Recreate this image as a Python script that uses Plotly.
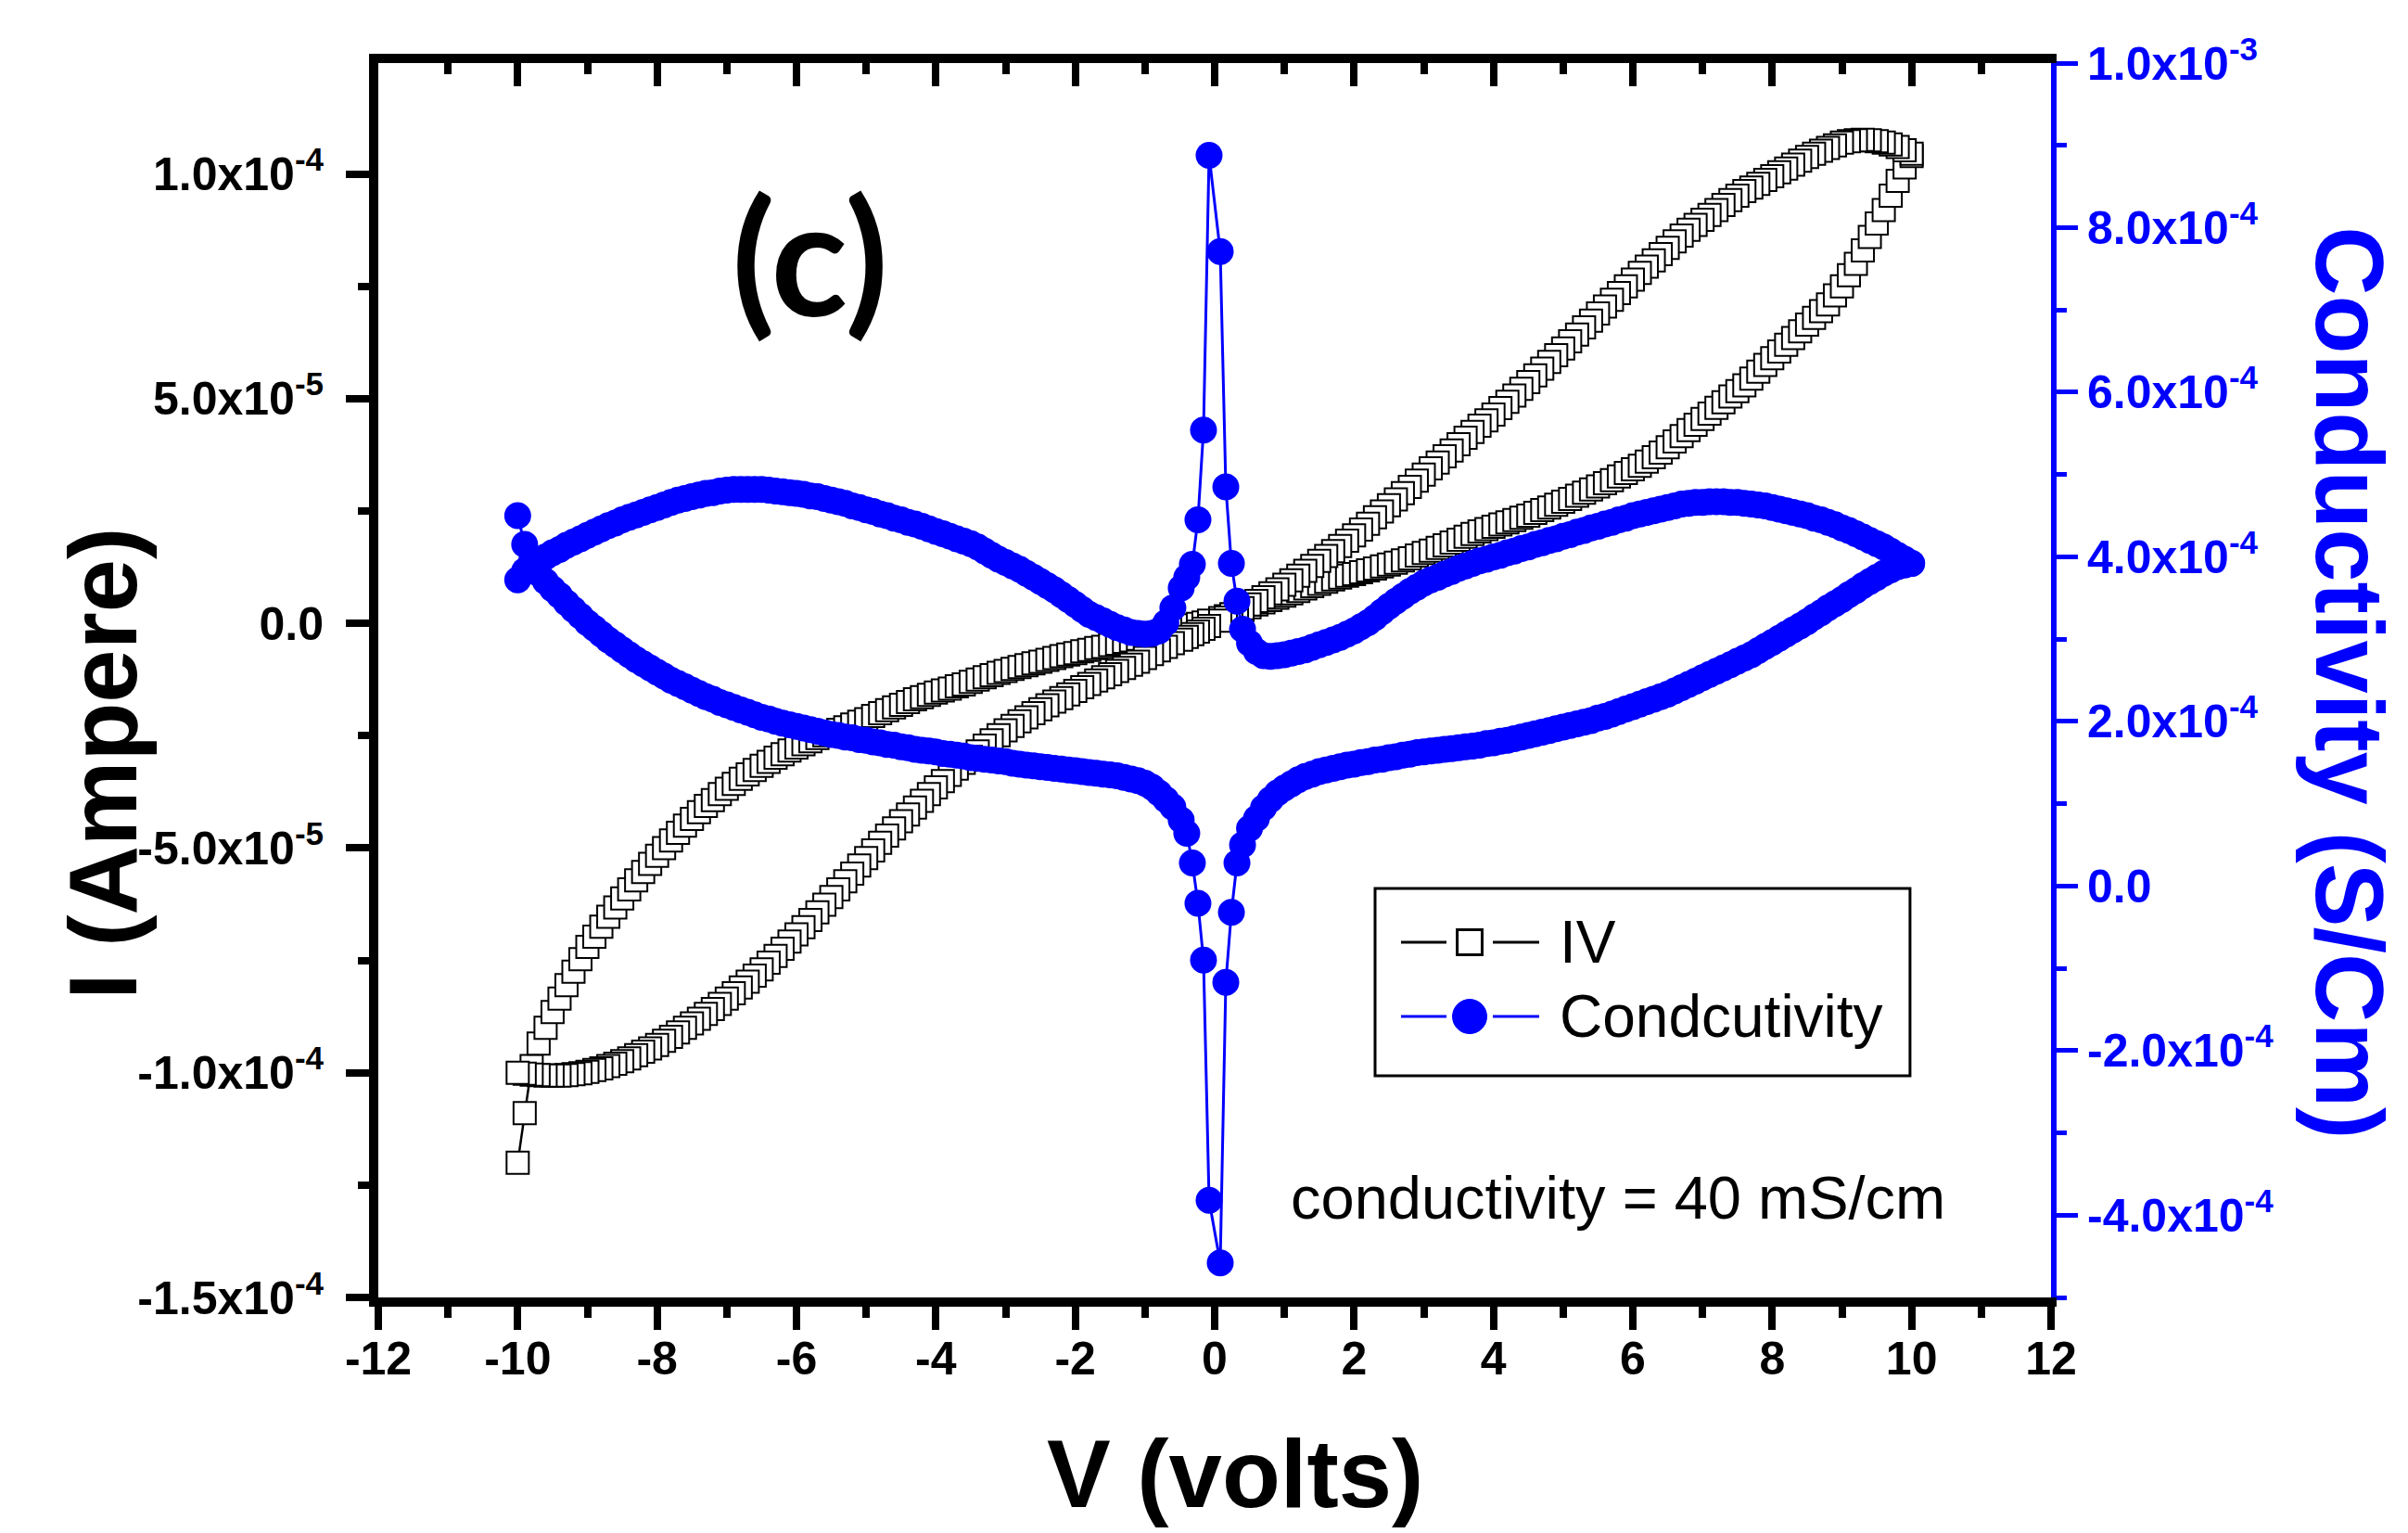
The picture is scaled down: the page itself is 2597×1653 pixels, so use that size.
import plotly.graph_objects as go

# voltage sweep (V): forward -10 -> 10, then reverse 10 -> -10
# (no point at V = 0, where the conductivity is undefined)
v_sweep = [
    -10.0, -9.9, -9.8, -9.7, -9.6, -9.5, -9.4, -9.3, -9.2, -9.1,
    -9.0, -8.9, -8.8, -8.7, -8.6, -8.5, -8.4, -8.3, -8.2, -8.1,
    -8.0, -7.9, -7.8, -7.7, -7.6, -7.5, -7.4, -7.3, -7.2, -7.1,
    -7.0, -6.9, -6.8, -6.7, -6.6, -6.5, -6.4, -6.3, -6.2, -6.1,
    -6.0, -5.9, -5.8, -5.7, -5.6, -5.5, -5.4, -5.3, -5.2, -5.1,
    -5.0, -4.9, -4.8, -4.7, -4.6, -4.5, -4.4, -4.3, -4.2, -4.1,
    -4.0, -3.9, -3.8, -3.7, -3.6, -3.5, -3.4, -3.3, -3.2, -3.1,
    -3.0, -2.9, -2.8, -2.7, -2.6, -2.5, -2.4, -2.3, -2.2, -2.1,
    -2.0, -1.9, -1.8, -1.7, -1.6, -1.5, -1.4, -1.3, -1.2, -1.1,
    -1.0, -0.9, -0.8, -0.7, -0.6,
    -0.48, -0.4, -0.32, -0.24, -0.16, -0.08, 0.08, 0.16, 0.24, 0.32, 0.4, 0.5,
    0.6, 0.7, 0.8, 0.9,
    1.0, 1.1, 1.2, 1.3, 1.4, 1.5, 1.6, 1.7, 1.8, 1.9,
    2.0, 2.1, 2.2, 2.3, 2.4, 2.5, 2.6, 2.7, 2.8, 2.9,
    3.0, 3.1, 3.2, 3.3, 3.4, 3.5, 3.6, 3.7, 3.8, 3.9,
    4.0, 4.1, 4.2, 4.3, 4.4, 4.5, 4.6, 4.7, 4.8, 4.9,
    5.0, 5.1, 5.2, 5.3, 5.4, 5.5, 5.6, 5.7, 5.8, 5.9,
    6.0, 6.1, 6.2, 6.3, 6.4, 6.5, 6.6, 6.7, 6.8, 6.9,
    7.0, 7.1, 7.2, 7.3, 7.4, 7.5, 7.6, 7.7, 7.8, 7.9,
    8.0, 8.1, 8.2, 8.3, 8.4, 8.5, 8.6, 8.7, 8.8, 8.9,
    9.0, 9.1, 9.2, 9.3, 9.4, 9.5, 9.6, 9.7, 9.8, 9.9,
    10.0,
]
v_fwd = v_sweep
v_rev = v_sweep[::-1]

# current on the forward sweep, units of 1e-5 A
i_fwd_e5 = [
    -12.0, -10.9, -9.85, -9.35, -9.0, -8.65, -8.35, -8.05, -7.75, -7.47,
    -7.2, -6.97, -6.75, -6.53, -6.32, -6.12, -5.92, -5.72, -5.53, -5.35,
    -5.17, -5.0, -4.83, -4.66, -4.5, -4.35, -4.2, -4.06, -3.93, -3.8,
    -3.68, -3.57, -3.46, -3.36, -3.26, -3.17, -3.08, -2.99, -2.91, -2.83,
    -2.76, -2.69, -2.62, -2.55, -2.49, -2.43, -2.37, -2.31, -2.25, -2.19,
    -2.13, -2.06, -2.0, -1.93, -1.87, -1.81, -1.75, -1.69, -1.64, -1.59,
    -1.54, -1.49, -1.45, -1.4, -1.36, -1.3, -1.25, -1.2, -1.15, -1.1,
    -1.06, -1.01, -0.97, -0.93, -0.89, -0.85, -0.81, -0.77, -0.73, -0.69,
    -0.66, -0.62, -0.59, -0.55, -0.52, -0.48, -0.45, -0.41, -0.38, -0.34,
    -0.31, -0.27, -0.24, -0.2, -0.16,
    -0.1, -0.07, -0.04, -0.01, 0.02, 0.06, 0.12, 0.16, 0.2, 0.24, 0.3, 0.36,
    0.42, 0.47, 0.52, 0.57,
    0.62, 0.67, 0.72, 0.78, 0.83, 0.88, 0.93, 0.98, 1.02, 1.06,
    1.1, 1.14, 1.18, 1.22, 1.27, 1.31, 1.35, 1.4, 1.45, 1.51,
    1.57, 1.62, 1.68, 1.74, 1.8, 1.86, 1.93, 1.99, 2.05, 2.1,
    2.15, 2.2, 2.25, 2.3, 2.35, 2.4, 2.46, 2.52, 2.58, 2.64,
    2.71, 2.77, 2.84, 2.91, 2.98, 3.05, 3.12, 3.19, 3.27, 3.35,
    3.43, 3.51, 3.6, 3.7, 3.8, 3.92, 4.05, 4.17, 4.3, 4.42,
    4.55, 4.67, 4.8, 4.92, 5.05, 5.17, 5.3, 5.45, 5.6, 5.75,
    5.9, 6.05, 6.2, 6.35, 6.5, 6.65, 6.8, 6.95, 7.1, 7.3,
    7.5, 7.75, 8.0, 8.3, 8.6, 8.9, 9.2, 9.52, 9.85, 10.15,
    10.4,
]
# current on the reverse sweep (10 -> -10), units of 1e-5 A
i_rev_e5 = [
    10.45, 10.53, 10.6, 10.66, 10.7, 10.73, 10.75, 10.76, 10.75, 10.73,
    10.7, 10.64, 10.58, 10.52, 10.45, 10.38, 10.3, 10.21, 10.12, 10.04,
    9.95, 9.87, 9.78, 9.7, 9.62, 9.52, 9.42, 9.31, 9.2, 9.09,
    8.98, 8.87, 8.76, 8.63, 8.5, 8.36, 8.22, 8.08, 7.94, 7.8,
    7.65, 7.5, 7.35, 7.2, 7.05, 6.9, 6.74, 6.59, 6.43, 6.28,
    6.12, 5.97, 5.82, 5.67, 5.52, 5.37, 5.22, 5.07, 4.93, 4.79,
    4.65, 4.52, 4.4, 4.26, 4.13, 3.99, 3.85, 3.72, 3.58, 3.45,
    3.31, 3.18, 3.04, 2.9, 2.76, 2.63, 2.49, 2.36, 2.22, 2.09,
    1.96, 1.84, 1.72, 1.61, 1.5, 1.39, 1.28, 1.17, 1.06, 0.96,
    0.86, 0.76, 0.67, 0.58, 0.5,
    0.42, 0.34, 0.27, 0.2, 0.13, 0.06, -0.06, -0.12, -0.18, -0.24, -0.3, -0.36,
    -0.44, -0.52, -0.6, -0.68,
    -0.77, -0.85, -0.92, -0.99, -1.06, -1.13, -1.2, -1.27, -1.35, -1.42,
    -1.5, -1.58, -1.66, -1.74, -1.82, -1.91, -2.0, -2.09, -2.18, -2.28,
    -2.38, -2.49, -2.6, -2.72, -2.85, -2.97, -3.1, -3.23, -3.37, -3.51,
    -3.65, -3.8, -3.95, -4.1, -4.25, -4.4, -4.56, -4.72, -4.88, -5.05,
    -5.22, -5.39, -5.57, -5.74, -5.92, -6.09, -6.26, -6.43, -6.6, -6.76,
    -6.92, -7.08, -7.24, -7.4, -7.55, -7.7, -7.84, -7.97, -8.1, -8.23,
    -8.35, -8.47, -8.58, -8.69, -8.8, -8.9, -9.0, -9.1, -9.2, -9.29,
    -9.38, -9.46, -9.53, -9.61, -9.68, -9.74, -9.8, -9.85, -9.9, -9.94,
    -9.98, -10.01, -10.03, -10.05, -10.06, -10.06, -10.06, -10.05, -10.04, -10.02,
    -10.0,
]

# conductivity on the forward sweep, units of 1e-4 S/cm
c_fwd_e4 = [
    4.5, 4.15, 3.95, 3.8, 3.7, 3.61, 3.53, 3.44, 3.36, 3.28,
    3.2, 3.13, 3.06, 2.99, 2.93, 2.87, 2.81, 2.75, 2.7, 2.65,
    2.6, 2.55, 2.5, 2.46, 2.42, 2.38, 2.34, 2.3, 2.27, 2.23,
    2.2, 2.17, 2.14, 2.11, 2.08, 2.05, 2.03, 2.0, 1.98, 1.96,
    1.94, 1.92, 1.9, 1.88, 1.86, 1.84, 1.83, 1.81, 1.8, 1.78,
    1.77, 1.75, 1.74, 1.72, 1.71, 1.69, 1.68, 1.66, 1.65, 1.64,
    1.63, 1.61, 1.6, 1.59, 1.58, 1.56, 1.55, 1.54, 1.53, 1.52,
    1.51, 1.49, 1.48, 1.47, 1.46, 1.45, 1.44, 1.43, 1.42, 1.41,
    1.4, 1.39, 1.38, 1.37, 1.36, 1.35, 1.34, 1.32, 1.3, 1.28,
    1.25, 1.2, 1.13, 1.05, 0.96,
    0.8, 0.64, 0.28, -0.21, -0.9, -3.82, -4.58, -1.17, -0.32, 0.28, 0.5, 0.7,
    0.82, 0.95, 1.05, 1.13,
    1.19, 1.24, 1.29, 1.33, 1.36, 1.39, 1.41, 1.43, 1.45, 1.47,
    1.48, 1.5, 1.51, 1.53, 1.54, 1.56, 1.57, 1.59, 1.6, 1.62,
    1.63, 1.64, 1.65, 1.66, 1.67, 1.68, 1.69, 1.7, 1.71, 1.73,
    1.74, 1.76, 1.77, 1.79, 1.81, 1.83, 1.85, 1.87, 1.89, 1.91,
    1.93, 1.95, 1.97, 1.99, 2.01, 2.04, 2.06, 2.09, 2.12, 2.15,
    2.18, 2.21, 2.24, 2.27, 2.3, 2.33, 2.37, 2.41, 2.45, 2.49,
    2.53, 2.57, 2.61, 2.65, 2.69, 2.73, 2.77, 2.81, 2.86, 2.91,
    2.96, 3.01, 3.06, 3.11, 3.16, 3.21, 3.27, 3.32, 3.38, 3.43,
    3.48, 3.54, 3.59, 3.65, 3.7, 3.75, 3.8, 3.84, 3.88, 3.9,
    3.92,
]
# conductivity on the reverse sweep (10 -> -10), units of 1e-4 S/cm
c_rev_e4 = [
    3.92, 3.97, 4.02, 4.07, 4.12, 4.16, 4.2, 4.24, 4.28, 4.32,
    4.35, 4.39, 4.42, 4.45, 4.47, 4.5, 4.52, 4.54, 4.56, 4.58,
    4.6, 4.62, 4.63, 4.64, 4.65, 4.66, 4.66, 4.67, 4.67, 4.67,
    4.66, 4.66, 4.65, 4.64, 4.62, 4.6, 4.58, 4.56, 4.54, 4.52,
    4.5, 4.47, 4.45, 4.42, 4.4, 4.37, 4.35, 4.32, 4.3, 4.27,
    4.25, 4.22, 4.2, 4.17, 4.15, 4.12, 4.1, 4.07, 4.05, 4.02,
    4.0, 3.97, 3.95, 3.92, 3.89, 3.86, 3.82, 3.79, 3.75, 3.72,
    3.68, 3.63, 3.58, 3.52, 3.46, 3.4, 3.33, 3.26, 3.2, 3.15,
    3.1, 3.06, 3.02, 2.99, 2.96, 2.93, 2.9, 2.87, 2.85, 2.83,
    2.81, 2.8, 2.79, 2.8, 2.85,
    2.95, 3.12, 3.46, 3.92, 4.85, 7.71, 8.88, 5.54, 4.45, 3.91, 3.75, 3.62,
    3.38, 3.2, 3.1, 3.07,
    3.06, 3.07, 3.08, 3.11, 3.14, 3.18, 3.22, 3.26, 3.3, 3.36,
    3.42, 3.48, 3.54, 3.6, 3.65, 3.7, 3.75, 3.8, 3.85, 3.89,
    3.93, 3.97, 4.02, 4.07, 4.12, 4.16, 4.19, 4.22, 4.25, 4.28,
    4.31, 4.34, 4.37, 4.4, 4.42, 4.45, 4.47, 4.5, 4.52, 4.55,
    4.57, 4.6, 4.62, 4.65, 4.67, 4.69, 4.71, 4.73, 4.74, 4.76,
    4.77, 4.78, 4.79, 4.8, 4.81, 4.82, 4.82, 4.82, 4.82, 4.82,
    4.81, 4.8, 4.78, 4.77, 4.75, 4.73, 4.71, 4.69, 4.66, 4.63,
    4.6, 4.57, 4.54, 4.51, 4.48, 4.45, 4.41, 4.38, 4.34, 4.3,
    4.26, 4.22, 4.18, 4.14, 4.09, 4.05, 4.0, 3.95, 3.9, 3.83,
    3.72,
]

assert len(v_fwd) == len(i_fwd_e5) == len(c_fwd_e4)
assert len(v_rev) == len(i_rev_e5) == len(c_rev_e4)

# axis ticks
x_ticks = [-12, -10, -8, -6, -4, -2, 0, 2, 4, 6, 8, 10, 12]
x_ticktext = ["-12", "-10", "-8", "-6", "-4", "-2", "0", "2", "4", "6", "8", "10", "12"]
x_minor = [-11, -9, -7, -5, -3, -1, 1, 3, 5, 7, 9, 11]
i_ticks = [-1.5e-4, -1.0e-4, -5.0e-5, 0.0, 5.0e-5, 1.0e-4]
i_ticktext = ["-1.5x10<sup>-4</sup>", "-1.0x10<sup>-4</sup>", "-5.0x10<sup>-5</sup>",
              "0.0", "5.0x10<sup>-5</sup>", "1.0x10<sup>-4</sup>"]
i_minor = [-1.25e-4, -7.5e-5, -2.5e-5, 2.5e-5, 7.5e-5]
c_ticks = [-4e-4, -2e-4, 0.0, 2e-4, 4e-4, 6e-4, 8e-4, 1e-3]
c_ticktext = ["-4.0x10<sup>-4</sup>", "-2.0x10<sup>-4</sup>", "0.0", "2.0x10<sup>-4</sup>",
              "4.0x10<sup>-4</sup>", "6.0x10<sup>-4</sup>", "8.0x10<sup>-4</sup>", "1.0x10<sup>-3</sup>"]
c_minor = [-5e-4, -3e-4, -1e-4, 1e-4, 3e-4, 5e-4, 7e-4, 9e-4]

BLUE = "#0000ff"
FONT = "Liberation Sans"

v_all = v_fwd + v_rev
i_all = [x * 1e-5 for x in i_fwd_e5 + i_rev_e5]
c_all = [x * 1e-4 for x in c_fwd_e4 + c_rev_e4]

fig = go.Figure()
fig.add_trace(go.Scatter(
    x=v_all, y=i_all, mode="lines+markers", name="IV",
    line=dict(color="black", width=2.5),
    marker=dict(symbol="square", size=24, color="white", line=dict(color="black", width=2)),
))
# conductivity sits on the top x axis (same range) and the right y axis
fig.add_trace(go.Scatter(
    x=v_all, y=c_all, xaxis="x2", yaxis="y2", mode="lines+markers", name="Condcutivity",
    line=dict(color=BLUE, width=3),
    marker=dict(symbol="circle", size=29, color=BLUE),
))

tick_font = dict(family=FONT, size=50, color="black", weight="bold")
fig.update_layout(
    width=2597, height=1653,
    margin=dict(l=400, r=393, t=60, b=262),
    paper_bgcolor="white", plot_bgcolor="white",
    showlegend=False,
    xaxis=dict(
        range=[-12, 12], tickmode="array", tickvals=x_ticks, ticktext=x_ticktext,
        showline=True, linewidth=10, linecolor="black", showgrid=False, zeroline=False,
        ticks="outside", ticklen=25, tickwidth=8, tickcolor="black",
        tickfont=tick_font, ticklabelstandoff=-12,
        minor=dict(tickvals=x_minor, ticks="outside", ticklen=12, tickwidth=8, tickcolor="black"),
    ),
    xaxis2=dict(
        range=[-12, 12], overlaying="x", side="top", anchor="y2",
        tickmode="array", tickvals=x_ticks, showticklabels=False,
        showline=True, linewidth=10, linecolor="black", showgrid=False, zeroline=False,
        ticks="inside", ticklen=25, tickwidth=8, tickcolor="black",
        minor=dict(tickvals=x_minor, ticks="inside", ticklen=12, tickwidth=8, tickcolor="black"),
    ),
    yaxis=dict(
        range=[-1.5e-4, 1.247e-4], tickmode="array", tickvals=i_ticks, ticktext=i_ticktext,
        showline=True, linewidth=10, linecolor="black", showgrid=False, zeroline=False,
        ticks="outside", ticklen=25, tickwidth=8, tickcolor="black",
        tickfont=tick_font, ticklabelstandoff=14,
        minor=dict(tickvals=i_minor, ticks="outside", ticklen=12, tickwidth=8, tickcolor="black"),
    ),
    yaxis2=dict(
        range=[-5.0e-4, 1.0e-3], overlaying="y", side="right", anchor="x2",
        tickmode="array", tickvals=c_ticks, ticktext=c_ticktext,
        showline=True, linewidth=6, linecolor=BLUE, showgrid=False, zeroline=False,
        ticks="outside", ticklen=23, tickwidth=5, tickcolor=BLUE,
        tickfont=dict(family=FONT, size=50, color=BLUE, weight="bold"), ticklabelstandoff=0,
        minor=dict(tickvals=c_minor, ticks="outside", ticklen=11, tickwidth=5, tickcolor=BLUE),
    ),
)

# axis titles and labels
title_font = dict(family=FONT, size=103, color="black", weight="bold")
fig.add_annotation(x=-0.1646, y=0.432, xref="paper", yref="paper", text="I (Ampere)",
                   textangle=-90, showarrow=False, xanchor="center", yanchor="middle",
                   font=title_font)
fig.add_annotation(x=0.5122, y=-0.1435, xref="paper", yref="paper", text="V (volts)",
                   showarrow=False, xanchor="center", yanchor="middle", font=title_font)
fig.add_annotation(x=1.1785, y=0.498, xref="paper", yref="paper", text="Conductivity (S/Cm)",
                   textangle=90, showarrow=False, xanchor="center", yanchor="middle",
                   font=dict(family=FONT, size=103, color=BLUE, weight="bold"))
fig.add_annotation(x=0.2583, y=0.8445, xref="paper", yref="paper", text="(c)",
                   showarrow=False, xanchor="center", yanchor="middle",
                   font=dict(family="Lato", size=172, color="black", weight="bold"))
fig.add_annotation(x=0.5445, y=0.0811, xref="paper", yref="paper", xanchor="left", yanchor="middle",
                   text="conductivity = 40 mS/cm", showarrow=False,
                   font=dict(family=FONT, size=65, color="black"))

# legend box drawn by hand so the symbols keep their size
fig.add_shape(type="rect", xref="paper", yref="paper", x0=0.5959, x1=0.9157, y0=0.1796, y1=0.3313,
              line=dict(color="black", width=3), fillcolor="white", layer="above")
for yl, col in [(0.2878, "black"), (0.2276, BLUE)]:
    fig.add_shape(type="line", xref="paper", yref="paper", x0=0.6114, x1=0.6386, y0=yl, y1=yl,
                  line=dict(color=col, width=3), layer="above")
    fig.add_shape(type="line", xref="paper", yref="paper", x0=0.6663, x1=0.6940, y0=yl, y1=yl,
                  line=dict(color=col, width=3), layer="above")
fig.add_shape(type="rect", xref="paper", yref="paper", x0=0.6450, x1=0.6599, y0=0.2776, y1=0.2979,
              line=dict(color="black", width=3), fillcolor="white", layer="above")
fig.add_shape(type="circle", xref="paper", yref="paper", x0=0.6422, x1=0.6627, y0=0.2137, y1=0.2415,
              line=dict(color=BLUE, width=1), fillcolor=BLUE, layer="above")
fig.add_annotation(x=0.7051, y=0.2878, xref="paper", yref="paper", xanchor="left", yanchor="middle",
                   text="IV", showarrow=False, font=dict(family=FONT, size=64, color="black"))
fig.add_annotation(x=0.7051, y=0.2276, xref="paper", yref="paper", xanchor="left", yanchor="middle",
                   text="Condcutivity", showarrow=False, font=dict(family=FONT, size=64, color="black"))

fig.write_html("out.html")
